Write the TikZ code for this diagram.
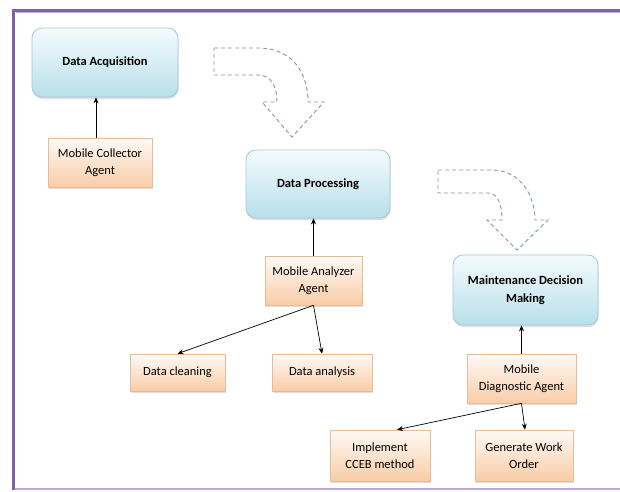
\documentclass[tikz,border=0pt]{standalone}
\usepackage{fontspec}
\setmainfont{Carlito}
\usetikzlibrary{arrows.meta,shadows}
\definecolor{frameP}{HTML}{7F63A8}
\definecolor{frameL}{HTML}{B9ABD3}
\definecolor{blueTop}{HTML}{F4FBFD}
\definecolor{blueBot}{HTML}{B8DFEA}
\definecolor{blueLine}{HTML}{A3C8D6}
\definecolor{orTop}{HTML}{FFFAF6}
\definecolor{orBot}{HTML}{F9CCA6}
\definecolor{orLine}{HTML}{E6BC97}
\definecolor{dashC}{HTML}{8296AC}
\tikzset{
  stagebox/.style={draw=blueLine, line width=0.8pt, rounded corners=10pt,
    top color=blueTop, bottom color=blueBot, align=center,
    font=\fontsize{12.5}{18}\selectfont\bfseries, inner sep=2pt,
    drop shadow={opacity=0.25, shadow xshift=0.5pt, shadow yshift=-2pt}},
  agentbox/.style={draw=orLine, line width=0.6pt,
    top color=orTop, bottom color=orBot, align=center,
    font=\fontsize{12.5}{17.5}\selectfont, inner sep=2pt,
    drop shadow={opacity=0.25, shadow xshift=1pt, shadow yshift=-2pt}},
  link/.style={draw=black, line width=0.7pt, -{Stealth[length=6pt,width=5pt]}},
  bendarrow/.style={draw=dashC, line width=0.9pt, dash pattern=on 4pt off 3pt}
}
\begin{document}
\begin{tikzpicture}[x=1pt,y=-1pt]
\useasboundingbox (0,0) rectangle (620,491);
\fill[white] (0,0) rectangle (620,491);
% frame
\draw[frameL, line width=1.5pt] (13,489) -- (620,489);
\draw[frameL, line width=1.2pt] (15.5,12.5) -- (620,12.5);
\draw[frameP, line width=3pt] (620,10) -- (13,10) -- (13,490);

% stage boxes
\node[stagebox, minimum width=146pt, minimum height=69pt] (da) at (105,62.5) {Data Acquisition};
\node[stagebox, minimum width=144pt, minimum height=68pt] (dp) at (318,184) {Data Processing};
\node[stagebox, minimum width=145pt, minimum height=70pt] (mdm) at (525.5,290) {Maintenance Decision\\Making};

% agent / task boxes
\node[agentbox, minimum width=104pt, minimum height=49pt] (mca) at (100,162.5) {Mobile Collector\\Agent};
\node[agentbox, minimum width=97pt, minimum height=49pt] (maa) at (313.5,280.5) {Mobile Analyzer\\Agent};
\node[agentbox, minimum width=95pt, minimum height=37pt] (dc) at (177.5,372.5) {Data cleaning};
\node[agentbox, minimum width=100pt, minimum height=37pt] (dan) at (322,372.5) {Data analysis};
\node[agentbox, minimum width=109pt, minimum height=49pt] (mda) at (521.5,378.5) {Mobile\\Diagnostic Agent};
\node[agentbox, minimum width=100pt, minimum height=51pt] (cceb) at (380,455.5) {Implement\\CCEB method};
\node[agentbox, minimum width=98pt, minimum height=51pt] (gwo) at (524,455.5) {Generate Work\\Order};

% connectors
\draw[link] ([xshift=-4pt]mca.north) -- ([xshift=-4pt]mca.north |- da.south);
\draw[link] (maa.north) -- (maa.north |- dp.south);
\draw[link] (maa.south) -- (dc.north);
\draw[link] (maa.south) -- (dan.north);
\draw[link] (mda.north) -- (mda.north |- mdm.south);
\draw[link] (mda.south) -- ([xshift=17pt]cceb.north);
\draw[link] (mda.south) -- ([xshift=1pt]gwo.north);

% dashed bent arrows
\draw[bendarrow] (214,48) -- (258,48) .. controls (290,48) and (308,70) .. (308,102)
  -- (324,102) -- (292,137) -- (262,102) -- (277,102)
  .. controls (277,88) and (272,75) .. (258,75) -- (214,75) -- cycle;
\draw[bendarrow] (438,170) -- (492,170) .. controls (520,170) and (535,195) .. (535,220)
  -- (548,220) -- (517,250) -- (487,220) -- (502,220)
  .. controls (502,205) and (498,193) .. (488,193) -- (438,193) -- cycle;
\end{tikzpicture}
\end{document}
